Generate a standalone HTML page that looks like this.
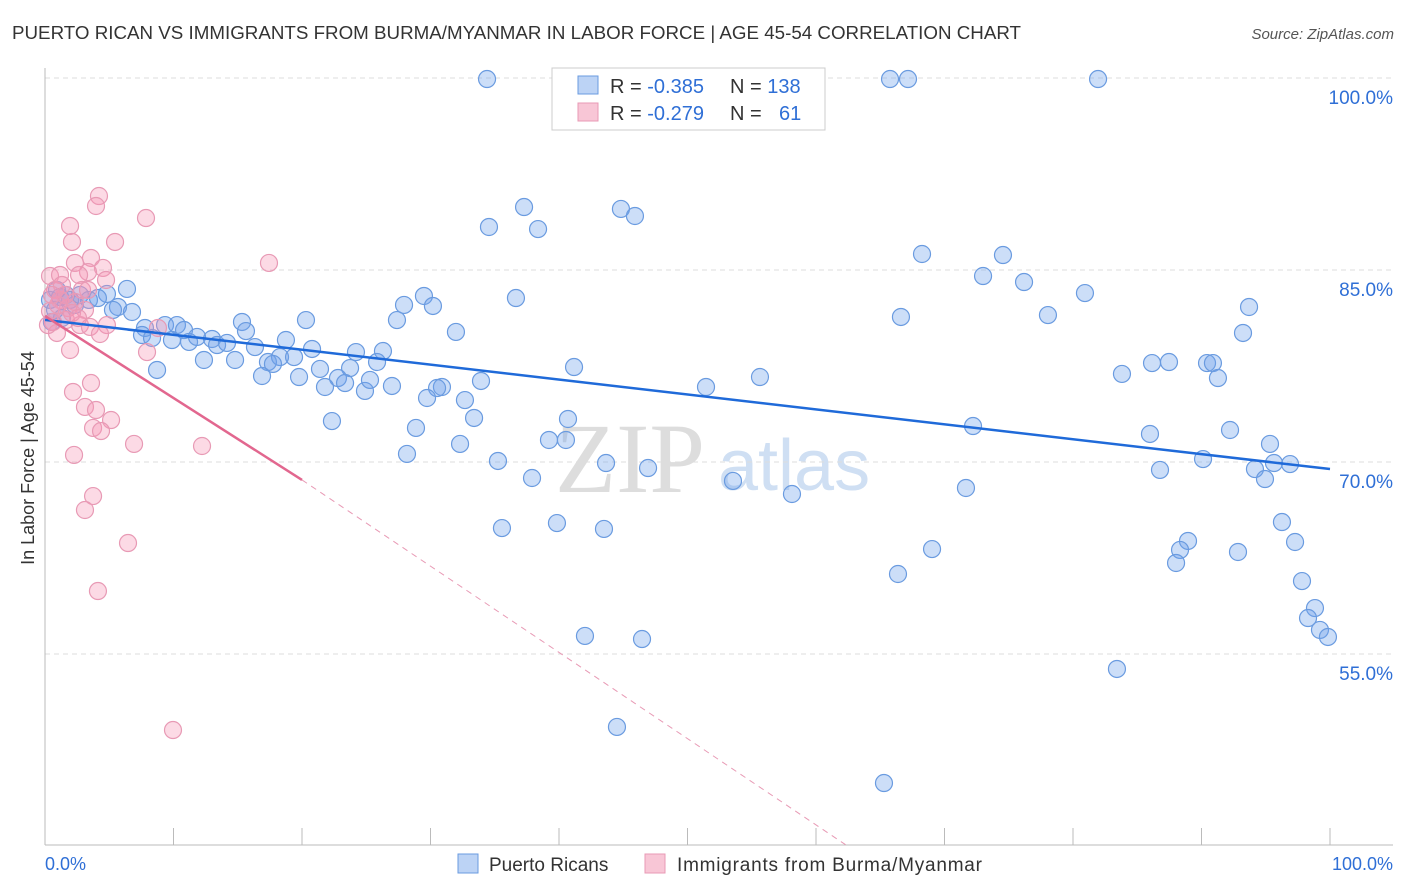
<!DOCTYPE html>
<html><head><meta charset="utf-8">
<style>
body{margin:0;background:#fff;font-family:"Liberation Sans",sans-serif;}
#wrap{position:relative;width:1406px;height:892px;overflow:hidden;}
</style></head>
<body>
<div id="wrap">
<svg id="svg" width="1406" height="892" xmlns="http://www.w3.org/2000/svg">
<text x="12" y="39" font-size="18" fill="#333" textLength="1009" lengthAdjust="spacingAndGlyphs">PUERTO RICAN VS IMMIGRANTS FROM BURMA/MYANMAR IN LABOR FORCE | AGE 45-54 CORRELATION CHART</text>
<text x="1394" y="39" font-size="15" fill="#555" text-anchor="end" font-style="italic">Source: ZipAtlas.com</text>
<text x="555" y="492" font-size="100" fill="#ddd" font-family="Liberation Serif,serif">ZIP</text>
<text x="718" y="490" font-size="72" fill="#cfdff3">atlas</text>
<text transform="translate(34,458) rotate(-90)" font-size="18" fill="#333" text-anchor="middle">In Labor Force | Age 45-54</text>
<g id="grid"></g><g id="pts"></g><g id="trend"></g>
<g>
<rect x="552" y="68" width="273" height="62" fill="#fff" stroke="#ccc"/>
<rect x="578" y="76" width="20" height="18" fill="#bcd3f5" stroke="#6a9be0"/>
<rect x="578" y="103" width="20" height="18" fill="#f8c6d6" stroke="#e89ab5"/>
<text x="610" y="93" font-size="20" fill="#333">R = <tspan fill="#2f6fd6">-0.385</tspan></text>
<text x="730" y="93" font-size="20" fill="#333">N = <tspan fill="#2f6fd6">138</tspan></text>
<text x="610" y="120" font-size="20" fill="#333">R = <tspan fill="#2f6fd6">-0.279</tspan></text>
<text x="730" y="120" font-size="20" fill="#333">N = <tspan fill="#2f6fd6" x="779">61</tspan></text>
</g>
<g>
<rect x="458" y="854" width="20" height="19" fill="#bcd3f5" stroke="#6a9be0"/>
<text x="489" y="871" font-size="19" fill="#333">Puerto Ricans</text>
<rect x="645" y="854" width="20" height="19" fill="#f8c6d6" stroke="#e89ab5"/>
<text x="677" y="871" font-size="19" fill="#333" textLength="305">Immigrants from Burma/Myanmar</text>
</g>
<text x="45" y="870" font-size="18" fill="#2f6fd6">0.0%</text>
<text x="1393" y="870" font-size="18" fill="#2f6fd6" text-anchor="end">100.0%</text>
</svg>
</div>
<script>
const yTickValues=[100,85,70,55];
const yTickLabels=["100.0%","85.0%","70.0%","55.0%"];
const bluePx=[[487,79],[890,79],[908,79],[1098,79],[677,79],[524,207],[621,209],[635,216],[489,227],[538,229],[922,254],[1003,255],[983,276],[1024,282],[1085,293],[1249,307],[1048,315],[901,317],[1243,333],[516,298],[424,296],[404,305],[433,306],[397,320],[456,332],[306,320],[242,322],[246,331],[127,289],[107,294],[89,300],[98,298],[118,307],[132,312],[113,310],[145,328],[165,325],[177,325],[184,330],[142,335],[152,338],[172,340],[189,342],[197,337],[212,339],[217,345],[227,343],[255,347],[286,340],[312,349],[356,352],[383,351],[377,362],[350,368],[268,362],[280,357],[294,357],[204,360],[235,360],[273,364],[262,376],[299,377],[320,369],[338,378],[325,387],[345,383],[365,391],[370,380],[392,386],[442,387],[437,388],[427,398],[465,400],[481,381],[157,370],[574,367],[706,387],[760,377],[1122,374],[1152,363],[1169,362],[1207,363],[1213,363],[1218,378],[332,421],[416,428],[474,418],[460,444],[549,440],[566,440],[568,419],[407,454],[498,461],[532,478],[606,463],[648,468],[733,481],[792,494],[966,488],[973,426],[1150,434],[1160,470],[1203,459],[1230,430],[1270,444],[1255,469],[1265,479],[1274,463],[1290,464],[502,528],[557,523],[604,529],[1282,522],[1295,542],[932,549],[1188,541],[1180,550],[1176,563],[1238,552],[898,574],[1302,581],[1315,608],[1308,618],[1320,630],[1328,637],[585,636],[642,639],[1117,669],[617,727],[884,783],[50,300],[55,310],[60,297],[66,295],[70,300],[75,305],[62,318],[52,322],[80,295],[57,290]];
const pinkPx=[[99,196],[96,206],[146,218],[70,226],[72,242],[115,242],[269,263],[75,263],[91,258],[103,268],[88,272],[79,275],[50,276],[60,275],[106,280],[82,290],[75,302],[55,290],[60,300],[68,308],[85,310],[50,311],[66,320],[53,322],[80,325],[90,327],[107,325],[100,334],[57,333],[158,328],[70,350],[147,352],[91,383],[73,392],[85,407],[96,410],[111,420],[93,428],[101,431],[134,444],[202,446],[74,455],[93,496],[85,510],[128,543],[98,591],[173,730],[65,295],[58,305],[72,313],[48,325],[62,285],[88,290],[52,295],[78,318]];
const blueX=bluePx.map(p=>+((p[0]-45)/12.85).toFixed(2));
const blueY=bluePx.map(p=>+(100-(p[1]-78)/12.8).toFixed(2));
const pinkX=pinkPx.map(p=>+((p[0]-45)/12.85).toFixed(2));
const pinkY=pinkPx.map(p=>+(100-(p[1]-78)/12.8).toFixed(2));
const blueTrend=[81.1,69.45];
const pinkTrend=[81.4,68.6,40.1];
const pinkTrendX=[0,20,62.3];
const xs=v=>45+v*12.85, ys=v=>78+(100-v)*12.8;
const NS="http://www.w3.org/2000/svg";
function mk(t,a,parent){const e=document.createElementNS(NS,t);for(const k in a)e.setAttribute(k,a[k]);document.getElementById(parent).appendChild(e);return e;}
yTickValues.forEach((v,i)=>{
 const l=mk('line',{x1:45,x2:1393,y1:ys(v),y2:ys(v),stroke:'#ddd','stroke-dasharray':'5,4'},'grid');
 
 
 const t=mk('text',{x:1393,y:ys(v)+26,'font-size':19,fill:'#2f6fd6','text-anchor':'end'},'grid');
 t.textContent=yTickLabels[i];
 
 
});
const ax=mk('line',{x1:45,x2:1393,y1:845,y2:845,stroke:'#bbb'},'grid');


const ay=mk('line',{x1:45,x2:45,y1:68,y2:845,stroke:'#bbb'},'grid');


for(let i=0;i<=10;i++){
 const t=mk('line',{x1:xs(i*10),x2:xs(i*10),y1:828,y2:845,stroke:'#bbb'},'grid');
 
 
}
blueX.forEach((x,i)=>{
 const c=mk('circle',{cx:xs(x),cy:ys(blueY[i]),r:8.5,fill:'rgba(110,160,235,0.35)',stroke:'#6a9be0','stroke-width':1.2},'pts');
 
 
});
pinkX.forEach((x,i)=>{
 const c=mk('circle',{cx:xs(x),cy:ys(pinkY[i]),r:8.5,fill:'rgba(245,150,180,0.35)',stroke:'#e89ab5','stroke-width':1.2},'pts');
 
 
});
const bl=mk('line',{x1:xs(0),y1:ys(blueTrend[0]),x2:xs(100),y2:ys(blueTrend[1]),stroke:'#1f6ad9','stroke-width':2.5},'trend');


const pl=mk('line',{x1:xs(pinkTrendX[0]),y1:ys(pinkTrend[0]),x2:xs(pinkTrendX[1]),y2:ys(pinkTrend[1]),stroke:'#e2678f','stroke-width':2.5},'trend');


const pd=mk('line',{x1:xs(pinkTrendX[1]),y1:ys(pinkTrend[1]),x2:xs(pinkTrendX[2]),y2:ys(pinkTrend[2]),stroke:'#e89ab5','stroke-width':1,'stroke-dasharray':'6,5'},'trend');


</script>
</body></html>
